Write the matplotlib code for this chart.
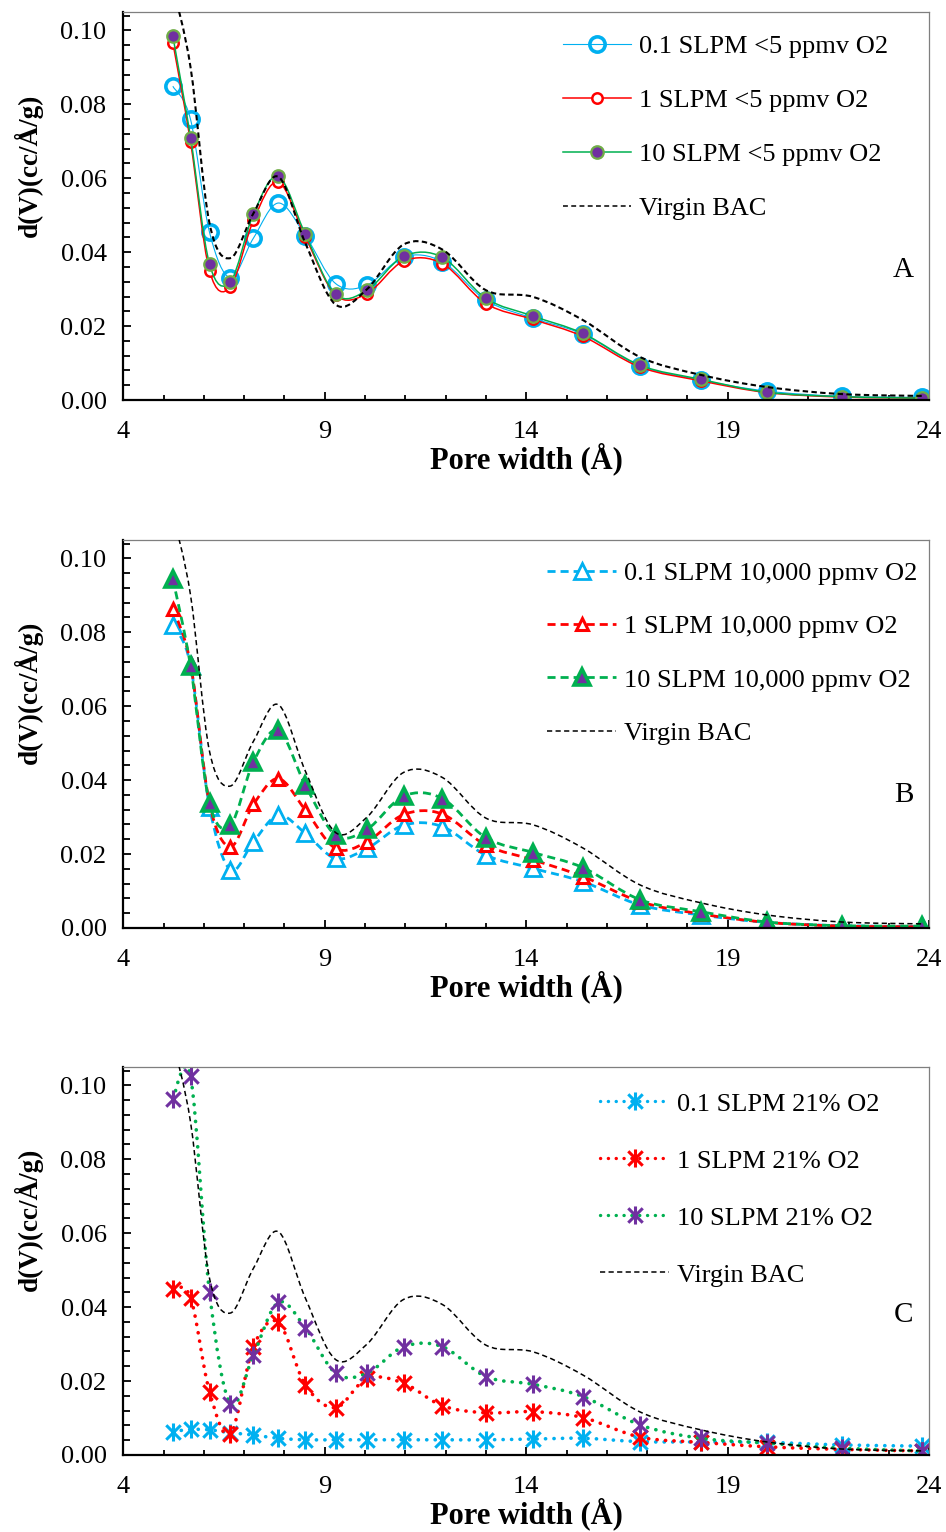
import matplotlib
matplotlib.use("Agg")
import matplotlib.pyplot as plt
from matplotlib.lines import Line2D
from matplotlib.path import Path
from matplotlib.patches import PathPatch
from matplotlib.ticker import MultipleLocator, FormatStrFormatter

# pore widths (Angstrom), shared by every series
pore_width = [5.23, 5.67, 6.14, 6.66, 7.23, 7.85, 8.52, 9.27, 10.05, 10.96,
              11.92, 13.00, 14.17, 15.41, 16.83, 18.33, 19.98, 21.84, 23.83]
x_ticks = [4, 9, 14, 19, 24]

virgin_bac = [0.112, 0.090, 0.0478, 0.0384, 0.0505, 0.0604, 0.0424, 0.0258, 0.0300, 0.0421,
              0.0407, 0.0297, 0.0279, 0.0216, 0.0116, 0.0068, 0.0035, 0.0016, 0.0011]

# panel A: <5 ppmv O2
a_01 = [0.0849, 0.0759, 0.0454, 0.0331, 0.0438, 0.0533, 0.0445, 0.0315, 0.0311, 0.0387,
        0.0374, 0.0270, 0.0221, 0.0178, 0.0092, 0.0054, 0.0024, 0.0010, 0.0007]
a_1 = [0.0967, 0.0698, 0.0350, 0.0306, 0.0486, 0.0590, 0.0441, 0.0284, 0.0288, 0.0376,
       0.0369, 0.0261, 0.0218, 0.0172, 0.0089, 0.0052, 0.0020, 0.0008, 0.0005]
a_10 = [0.0985, 0.0710, 0.0368, 0.0320, 0.0503, 0.0605, 0.0448, 0.0286, 0.0297, 0.0389,
        0.0386, 0.0275, 0.0227, 0.0180, 0.0094, 0.0056, 0.0021, 0.0009, 0.0005]

# panel B: 10,000 ppmv O2
b_01 = [0.0819, 0.0711, 0.0328, 0.0157, 0.0233, 0.0305, 0.0256, 0.0188, 0.0215, 0.0278,
        0.0274, 0.0197, 0.0161, 0.0125, 0.0062, 0.0035, 0.0015, 0.0006, 0.0004]
b_1 = [0.0864, 0.0715, 0.0337, 0.0220, 0.0334, 0.0404, 0.0319, 0.0215, 0.0233, 0.0307,
       0.0308, 0.0224, 0.0184, 0.0139, 0.0071, 0.0038, 0.0015, 0.0005, 0.0003]
b_10 = [0.0945, 0.0708, 0.0337, 0.0278, 0.0449, 0.0535, 0.0386, 0.0251, 0.0267, 0.0357,
        0.0350, 0.0244, 0.0204, 0.0163, 0.0076, 0.0044, 0.0016, 0.0006, 0.0005]

# panel C: 21% O2
c_01 = [0.0063, 0.0069, 0.0068, 0.0060, 0.0054, 0.0045, 0.0041, 0.0041, 0.0041, 0.0041,
        0.0041, 0.0041, 0.0043, 0.0045, 0.0036, 0.0035, 0.0034, 0.0027, 0.0024]
c_1 = [0.0450, 0.0426, 0.0171, 0.0056, 0.0293, 0.0359, 0.0189, 0.0128, 0.0207, 0.0194,
       0.0133, 0.0114, 0.0117, 0.0101, 0.0048, 0.0034, 0.0022, 0.0015, 0.0011]
c_10 = [0.0964, 0.1024, 0.0440, 0.0137, 0.0270, 0.0413, 0.0344, 0.0221, 0.0221, 0.0293,
        0.0293, 0.0212, 0.0191, 0.0158, 0.0081, 0.0045, 0.0032, 0.0018, 0.0011]

blue = '#00B0F0'
red = '#FF0000'
green = '#00B050'
purple = '#7030A0'
olive = '#70AD47'

plt.rcParams['font.family'] = ['Liberation Serif', 'DejaVu Serif']

# excel-like star marker: an X with a vertical stroke
star = Path([(-1, -1), (1, 1), (-1, 1), (1, -1), (0, -1.25), (0, 1.25)],
            [Path.MOVETO, Path.LINETO, Path.MOVETO, Path.LINETO, Path.MOVETO, Path.LINETO])


def smooth_line(ax, xs, ys, z, **kw):
    # excel "smoothed line": cubic bezier through the data points
    pts = list(zip(xs, ys))
    n = len(pts)
    verts = [pts[0]]
    codes = [Path.MOVETO]
    for i in range(n - 1):
        p0 = pts[max(i - 1, 0)]
        p1 = pts[i]
        p2 = pts[i + 1]
        p3 = pts[min(i + 2, n - 1)]
        c1 = (p1[0] + (p2[0] - p0[0]) / 6, p1[1] + (p2[1] - p0[1]) / 6)
        c2 = (p2[0] - (p3[0] - p1[0]) / 6, p2[1] - (p3[1] - p1[1]) / 6)
        verts += [c1, c2, p2]
        codes += [Path.CURVE4] * 3
    ax.add_patch(PathPatch(Path(verts, codes), fill=False, zorder=z, **kw))


def style_axes(ax):
    ax.set_xlim(4, 24)
    ax.set_ylim(0, 0.105)
    ax.set_xticks(x_ticks)
    ax.xaxis.set_minor_locator(MultipleLocator(1))
    ax.yaxis.set_major_locator(MultipleLocator(0.02))
    ax.yaxis.set_minor_locator(MultipleLocator(0.004))
    ax.yaxis.set_major_formatter(FormatStrFormatter('%.2f'))
    ax.tick_params(which='both', direction='in', labelsize=19, width=1.3, colors='black')
    ax.tick_params(axis='y', which='major', length=5.5, pad=12)
    ax.tick_params(axis='y', which='minor', length=5)
    ax.tick_params(axis='x', which='major', length=5.5, pad=15)
    ax.tick_params(axis='x', which='minor', length=3.5)
    for s in ['left', 'bottom']:
        ax.spines[s].set_linewidth(1.6)
        ax.spines[s].set_color('black')
    for s in ['top', 'right']:
        ax.spines[s].set_linewidth(0.9)
        ax.spines[s].set_color('#7f7f7f')
    ax.set_xlabel('Pore width (Å)', fontsize=22, fontweight='bold')
    ax.set_ylabel('d(V)(cc/Å/g)', fontsize=19.5, fontweight='bold')
    ax.xaxis.set_label_coords(0.5, -0.11)
    ax.yaxis.set_label_coords(-0.1, 0.606)


fig = plt.figure(figsize=(9.46, 15.32), dpi=100)
ax_a = fig.add_axes([0.1303, 0.7389, 0.852, 0.2533])
ax_b = fig.add_axes([0.1303, 0.3943, 0.852, 0.2533])
ax_c = fig.add_axes([0.1303, 0.0503, 0.852, 0.2533])

# ---------------- panel A ----------------
smooth_line(ax_a, pore_width, a_01, 2.0, edgecolor=blue, lw=0.8)
ax_a.plot(pore_width, a_01, ls='none', marker='o', ms=11, mfc='none', mec=blue, mew=2.6, zorder=2.1)
smooth_line(ax_a, pore_width, a_1, 2.2, edgecolor=red, lw=1.1)
ax_a.plot(pore_width, a_1, ls='none', marker='o', ms=7.5, mfc='white', mec=red, mew=1.8, zorder=2.3)
smooth_line(ax_a, pore_width, a_10, 2.4, edgecolor=green, lw=1.1)
ax_a.plot(pore_width, a_10, ls='none', marker='o', ms=9, mfc=purple, mec=olive, mew=1.6, zorder=2.5)
smooth_line(ax_a, pore_width, virgin_bac, 2.6, edgecolor='black', lw=1.5, linestyle=(0, (2.6, 1.6)))

legend_a = [Line2D([0], [0], color=blue, lw=0.8, marker='o', ms=11, mfc='none', mec=blue, mew=2.6,
                   label='0.1 SLPM <5 ppmv O2'),
            Line2D([0], [0], color=red, lw=1.1, marker='o', ms=7.5, mfc='white', mec=red, mew=1.8,
                   label='1 SLPM <5 ppmv O2'),
            Line2D([0], [0], color=green, lw=1.1, marker='o', ms=9, mfc=purple, mec=olive, mew=1.6,
                   label='10 SLPM <5 ppmv O2'),
            Line2D([0], [0], color='black', lw=1.1, linestyle=(0, (3.2, 2.2)), label='Virgin BAC')]
ax_a.legend(handles=legend_a, loc='upper left', bbox_to_anchor=(0.546, 0.942), frameon=False,
            fontsize=19, handlelength=2.55, handletextpad=0.3, labelspacing=1.16,
            borderpad=0, borderaxespad=0, numpoints=1)
ax_a.text(0.968, 0.335, 'A', transform=ax_a.transAxes, ha='center', va='center', fontsize=21)
style_axes(ax_a)

# ---------------- panel B ----------------
dash = (0, (2.9, 1.8))
smooth_line(ax_b, pore_width, b_01, 2.0, edgecolor=blue, lw=2.0, linestyle=dash)
ax_b.plot(pore_width, b_01, ls='none', marker='^', ms=11, mfc='white', mec=blue, mew=2.0, zorder=2.1)
smooth_line(ax_b, pore_width, b_1, 2.2, edgecolor=red, lw=2.0, linestyle=dash)
ax_b.plot(pore_width, b_1, ls='none', marker='^', ms=8.5, mfc='white', mec=red, mew=2.2, zorder=2.3)
smooth_line(ax_b, pore_width, b_10, 2.4, edgecolor=green, lw=2.0, linestyle=dash)
ax_b.plot(pore_width, b_10, ls='none', marker='^', ms=11, mfc=purple, mec=green, mew=2.6, zorder=2.5)
smooth_line(ax_b, pore_width, virgin_bac, 2.6, edgecolor='black', lw=1.1, linestyle=(0, (3.4, 2.2)))

legend_b = [Line2D([0], [0], color=blue, lw=2.0, linestyle=dash, marker='^', ms=11, mfc='white',
                   mec=blue, mew=2.0, label='0.1 SLPM 10,000 ppmv O2'),
            Line2D([0], [0], color=red, lw=2.0, linestyle=dash, marker='^', ms=8.5, mfc='white',
                   mec=red, mew=2.2, label='1 SLPM 10,000 ppmv O2'),
            Line2D([0], [0], color=green, lw=2.0, linestyle=dash, marker='^', ms=11, mfc=purple,
                   mec=green, mew=2.6, label='10 SLPM 10,000 ppmv O2'),
            Line2D([0], [0], color='black', lw=1.1, linestyle=(0, (3.4, 2.2)), label='Virgin BAC')]
ax_b.legend(handles=legend_b, loc='upper left', bbox_to_anchor=(0.526, 0.944), frameon=False,
            fontsize=19, handlelength=2.6, handletextpad=0.3, labelspacing=1.13,
            borderpad=0, borderaxespad=0, numpoints=1)
ax_b.text(0.968, 0.343, 'B', transform=ax_b.transAxes, ha='center', va='center', fontsize=21)
style_axes(ax_b)

# ---------------- panel C ----------------
dot = (0, (0.05, 2.3))
smooth_line(ax_c, pore_width, c_01, 2.0, edgecolor=blue, lw=2.6, linestyle=dot, capstyle='round')
ax_c.plot(pore_width, c_01, ls='none', marker=star, ms=13, mfc=blue, mec=blue, mew=2.2, zorder=2.1)
smooth_line(ax_c, pore_width, c_1, 2.2, edgecolor=red, lw=2.6, linestyle=dot, capstyle='round')
ax_c.plot(pore_width, c_1, ls='none', marker=star, ms=13, mfc=red, mec=red, mew=2.2, zorder=2.3)
smooth_line(ax_c, pore_width, c_10, 2.4, edgecolor=green, lw=2.6, linestyle=dot, capstyle='round')
ax_c.plot(pore_width, c_10, ls='none', marker=star, ms=13, mfc=purple, mec=purple, mew=2.2, zorder=2.5)
smooth_line(ax_c, pore_width, virgin_bac, 2.6, edgecolor='black', lw=1.1, linestyle=(0, (3.4, 2.2)))

legend_c = [Line2D([0], [0], color=blue, lw=2.4, linestyle=dot, dash_capstyle='round', marker=star,
                   ms=13, mfc=blue, mec=blue, mew=2.2, label='0.1 SLPM 21% O2'),
            Line2D([0], [0], color=red, lw=2.4, linestyle=dot, dash_capstyle='round', marker=star,
                   ms=13, mfc=red, mec=red, mew=2.2, label='1 SLPM 21% O2'),
            Line2D([0], [0], color=green, lw=2.4, linestyle=dot, dash_capstyle='round', marker=star,
                   ms=13, mfc=purple, mec=purple, mew=2.2, label='10 SLPM 21% O2'),
            Line2D([0], [0], color='black', lw=1.1, linestyle=(0, (3.4, 2.2)), label='Virgin BAC')]
ax_c.legend(handles=legend_c, loc='upper left', bbox_to_anchor=(0.592, 0.935), frameon=False,
            fontsize=19, handlelength=2.6, handletextpad=0.3, labelspacing=1.27,
            borderpad=0, borderaxespad=0, numpoints=1)
ax_c.text(0.968, 0.361, 'C', transform=ax_c.transAxes, ha='center', va='center', fontsize=21)
style_axes(ax_c)

fig.savefig('out.png', dpi=100)
